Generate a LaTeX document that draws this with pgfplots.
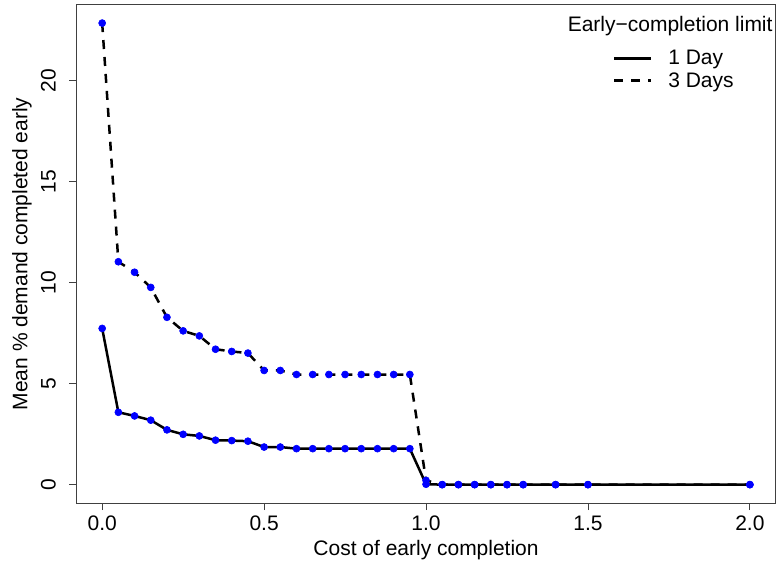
\documentclass[border=0pt]{standalone}
\usepackage{fontspec}
\setmainfont{Liberation Sans}
\usepackage{pgfplots}
\pgfplotsset{compat=1.18}
\newcommand{\rf}{\fontsize{21}{25}\selectfont}
\begin{document}
\begin{tikzpicture}
\pgfplotstableread{
x y
0.00 7.73
0.05 3.58
0.10 3.40
0.15 3.19
0.20 2.71
0.25 2.49
0.30 2.41
0.35 2.20
0.40 2.18
0.45 2.15
0.50 1.86
0.55 1.86
0.60 1.78
0.65 1.78
0.70 1.78
0.75 1.78
0.80 1.78
0.85 1.78
0.90 1.78
0.95 1.78
1.00 0.02
1.05 0
1.10 0
1.15 0
1.20 0
1.25 0
1.30 0
1.40 0
1.50 0
2.00 0
}\oneday
\pgfplotstableread{
x y
0.00 22.84
0.05 11.03
0.10 10.51
0.15 9.76
0.20 8.28
0.25 7.61
0.30 7.36
0.35 6.70
0.40 6.59
0.45 6.51
0.50 5.65
0.55 5.65
0.60 5.45
0.65 5.45
0.70 5.45
0.75 5.45
0.80 5.45
0.85 5.45
0.90 5.45
0.95 5.45
1.00 0.21
1.05 0
1.10 0
1.15 0
1.20 0
1.25 0
1.30 0
1.40 0
1.50 0
2.00 0
}\threedays
\begin{axis}[
  name=ax,
  scale only axis,
  width=699.8pt, height=498.6pt,
  xmin=-0.08, xmax=2.08,
  ymin=-0.914, ymax=23.75,
  axis line style={black!75, line width=0.8pt},
  tick align=outside,
  major tick length=7pt,
  tick style={black!75, line width=0.8pt},
  xtick pos=lower, ytick pos=left,
  xtick={0,0.5,1,1.5,2},
  xticklabels={0.0,0.5,1.0,1.5,2.0},
  ytick={0,5,10,15,20},
  yticklabels={0,5,10,15,20},
  /pgf/number format/assume math mode=true,
  ticklabel style={font=\rf},
  xticklabel style={anchor=north, yshift=-2pt},
  yticklabel style={rotate=90, anchor=south, yshift=10pt},
  every axis x label/.style={at={(axis description cs:0.5,-0.0951)}, anchor=center, font=\rf},
  every axis y label/.style={at={(axis description cs:-0.0776,0.5)}, rotate=90, anchor=center, font=\rf},
  xlabel={Cost of early completion},
  ylabel={Mean \% demand completed early},
  legend style={draw=none, fill=none, inner sep=0pt, outer sep=0pt,
    at={(axis description cs:0.767,0.908)}, anchor=north west,
    row sep=6pt, column sep=16pt,
    nodes={inner sep=0pt, font=\rf}},
  legend cell align=left,
  legend image code/.code={\draw[#1] (0pt,0pt) -- (37pt,0pt);},
  clip=false,
]
\addplot[black, line width=2.5pt, mark=*, mark size=3.5pt,
  mark options={solid, draw=blue, fill=blue, line width=0.6pt}] table[x=x,y=y] {\oneday};
\addlegendentry{1 Day}
\addplot[black, line width=2.5pt, dash pattern=on 9pt off 8pt, mark=*, mark size=3.5pt,
  mark options={solid, draw=blue, fill=blue, line width=0.6pt}] table[x=x,y=y] {\threedays};
\addlegendentry{3 Days}
\node[font=\rf, anchor=center] at (axis description cs:0.849,0.957) {Early−completion limit};
\end{axis}
\pgfresetboundingbox
\path (ax.south west) ++(-76.3pt,-63.7pt) coordinate (bl);
\path (ax.north east) ++(3.2pt,4.7pt) coordinate (tr);
\path[use as bounding box] (bl) rectangle (tr);
\end{tikzpicture}
\end{document}
